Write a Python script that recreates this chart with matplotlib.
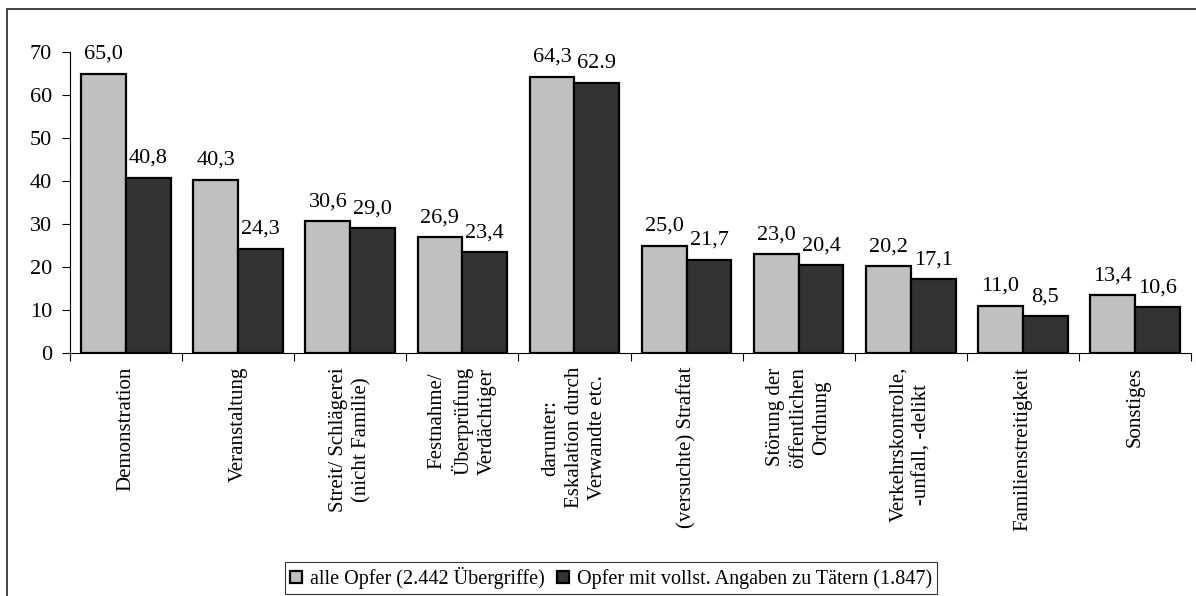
import numpy as np
import matplotlib
matplotlib.use("Agg")
import matplotlib.pyplot as plt
from matplotlib.patches import Rectangle

plt.rcParams['font.family'] = ['Liberation Serif', 'DejaVu Serif']
plt.rcParams['font.size'] = 15

# data
categories = [
    'Demonstration',
    'Veranstaltung',
    'Streit/ Schlägerei\n(nicht Familie)',
    'Festnahme/\nÜberprüfung\nVerdächtiger',
    'darunter:\nEskalation durch\nVerwandte etc.',
    '(versuchte) Straftat',
    'Störung der\nöffentlichen\nOrdnung',
    'Verkehrskontrolle,\n-unfall, -delikt',
    'Familienstreitigkeit',
    'Sonstiges',
]
alle_opfer = [65.0, 40.3, 30.6, 26.9, 64.3, 25.0, 23.0, 20.2, 11.0, 13.4]
mit_taetern = [40.8, 24.3, 29.0, 23.4, 62.9, 21.7, 20.4, 17.1, 8.5, 10.6]
labels_alle = ['65,0', '40,3', '30,6', '26,9', '64,3', '25,0', '23,0', '20,2', '11,0', '13,4']
labels_taeter = ['40,8', '24,3', '29,0', '23,4', '62.9', '21,7', '20,4', '17,1', '8,5', '10,6']
y_ticks = [0, 10, 20, 30, 40, 50, 60, 70]
legend_labels = ['alle Opfer (2.442 Übergriffe)', 'Opfer mit vollst. Angaben zu Tätern (1.847)']

fig = plt.figure(figsize=(11.96, 5.96), dpi=100)
ax = fig.add_axes([70 / 1196, 1 - 353 / 596, 1121 / 1196, 301 / 596])

x = np.arange(len(categories))
w = 0.4
b1 = ax.bar(x - w / 2, alle_opfer, w, color='#C0C0C0', edgecolor='black', linewidth=1.6,
            label=legend_labels[0])
b2 = ax.bar(x + w / 2, mit_taetern, w, color='#333333', edgecolor='black', linewidth=1.6,
            label=legend_labels[1])

# value labels above bars
for bars, labs in [(b1, labels_alle), (b2, labels_taeter)]:
    for bar, lab in zip(bars, labs):
        ax.annotate(lab, (bar.get_x() + bar.get_width() / 2, bar.get_height()),
                    xytext=(0, 7), textcoords='offset points', ha='center', va='bottom',
                    fontsize=16)

ax.set_xlim(-0.5, len(categories) - 0.5)
ax.set_ylim(0, 70)
ax.set_yticks(y_ticks)
ax.tick_params(axis='y', direction='out', length=6, width=0.8, pad=7, labelsize=16)

# category boundary ticks
ax.set_xticks(np.arange(-0.5, len(categories), 1.0), minor=True)
ax.set_xticks(x)
ax.set_xticklabels(categories, rotation=90, ha='center', va='top', multialignment='center',
                   linespacing=1.3, fontsize=15)
ax.tick_params(axis='x', which='major', length=0, pad=10)
ax.tick_params(axis='x', which='minor', direction='out', length=6, width=0.8)

for s in ['top', 'right']:
    ax.spines[s].set_visible(False)
for s in ['left', 'bottom']:
    ax.spines[s].set_linewidth(0.8)

leg = fig.legend(handles=[b1, b2], loc='center', bbox_to_anchor=(611 / 1196, 1 - 578 / 596),
                 ncol=2, frameon=True, fancybox=False, edgecolor='black', handlelength=0.6,
                 handleheight=0.6, handletextpad=0.4, columnspacing=0.6, borderpad=0.25,
                 fontsize=14.5)
leg.get_frame().set_linewidth(0.8)

# outer border of the chart area
fig.patches.append(Rectangle((7 / 1196, -0.01), 1.02, 1 - 9 / 596 + 0.01, transform=fig.transFigure,
                             fill=False, edgecolor='#222222', linewidth=1.2))

fig.savefig('out.png', dpi=100)
